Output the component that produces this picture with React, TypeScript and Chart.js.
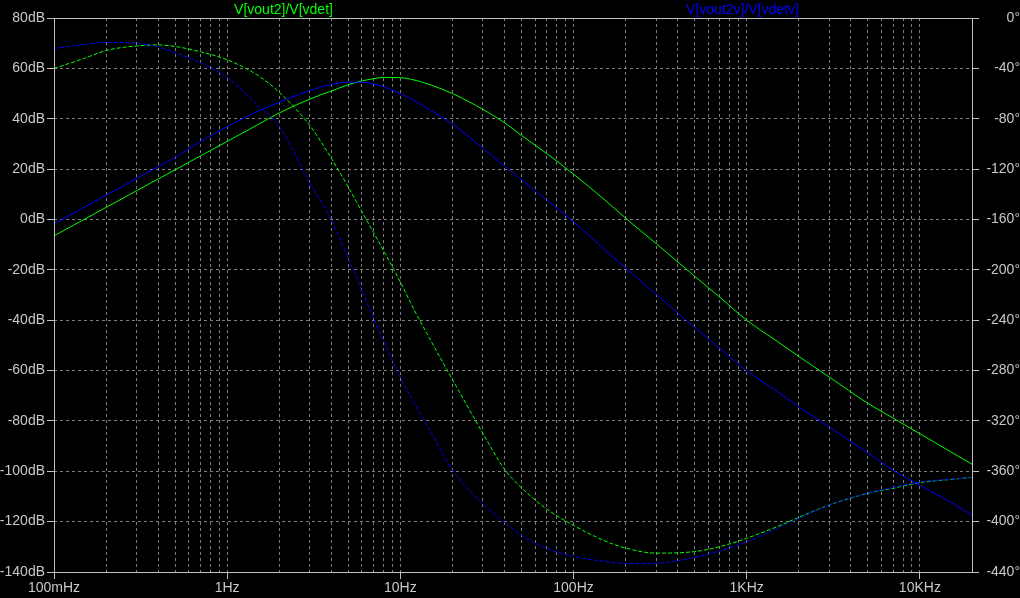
import React, { useEffect, useRef } from "react";
import { Chart, registerables } from "chart.js";

Chart.register(...registerables);

// ---------- data ----------
const freqHz = [
  0.1, 0.15, 0.2, 0.3, 0.4, 0.5, 0.7, 1, 1.5, 2, 3, 4, 5, 6, 7, 8, 10, 12, 15, 20,
  30, 40, 50, 70, 100, 150, 200, 300, 500, 700, 1000, 1500, 2000, 3000, 5000, 7000,
  10000, 15000, 20000,
];

// V[vout2]/V[vdet] magnitude (dB)
const gainVout2Db = [
  -6.5, 0.1, 4.8, 11.4, 16.1, 19.7, 25.2, 31.0, 37.6, 42.3, 47.8, 51.0, 53.5, 55.0, 55.9, 56.4,
  56.3, 55.4, 53.4, 50.0, 43.7, 38.4, 33.4, 26.2, 18.0, 8.0, 0.5, -9.6, -22.5, -30.9, -40.0,
  -48.4, -54.4, -62.6, -73.0, -78.9, -85.1, -92.2, -97.2,
];

// V[vout2]/V[vdet] phase (degrees)
const phaseVout2Deg = [
  -40, -32, -25.8, -22.2, -21.4, -22.6, -26.8, -33.2, -45.5, -59, -85.4, -111.6, -134.2, -153.8,
  -170.4, -184.7, -209.7, -231.6, -256.3, -287.2, -330, -358.5, -373, -390, -403, -415, -421,
  -425, -423.8, -419.9, -413.2, -404, -396.6, -386.8, -377.5, -373.5, -369, -366.5, -364.8,
];

// V[vout2v]/V[vdetv] magnitude (dB)
const gainVout2vDb = [
  -1.7, 4.9, 9.6, 16.3, 21.0, 24.6, 31.0, 36.8, 43.0, 46.5, 51.2, 53.6, 54.5, 54.5, 53.8, 52.7,
  50.0, 47.2, 43.3, 37.8, 28.3, 21.2, 15.8, 7.7, -0.9, -11.8, -19.3, -29.8, -42.8, -51.2, -60.1,
  -68.3, -74.4, -82.4, -92.7, -99.6, -105.5, -112.3, -117.4,
];

// V[vout2v]/V[vdetv] phase (degrees)
const phaseVout2vDeg = [
  -24.2, -21.0, -19.4, -20.1, -23.0, -27.5, -35.5, -47.3, -69, -86, -131, -160.5, -191, -216.4,
  -238.7, -256.5, -285.2, -305.3, -329, -359, -386, -400.6, -411, -421.2, -427.6, -431.5, -433.2,
  -433, -428.5, -423.3, -416, -405.3, -397.4, -386.8, -377.3, -373, -368.5, -366.3, -364.8,
];

const decadeValues = [0.1, 1, 10, 100, 1000, 10000];
const decadeLabels = ["100mHz", "1Hz", "10Hz", "100Hz", "1KHz", "10KHz"];
const traceNames = ["V[vout2]/V[vdet]", "V[vout2v]/V[vdetv]"];

const X_MIN = 0.1;
const X_MAX = 20000;
const DB_MIN = -140;
const DB_MAX = 80;
const DB_STEP = 20;
const DEG_MIN = -440;
const DEG_MAX = 0;
const DEG_STEP = 40;

// ---------- styles ----------
const GREEN = "#00ff00";
const BLUE = "#0000ff";
const GRID = "#7f7f7f";
const FRAME = "#c0c0c0";
const TEXT = "#c8c8c8";
const FONT_FAMILY = '"Liberation Sans", Arial, sans-serif';

function gridValues(): number[] {
  const out: number[] = [];
  for (let e = -1; e <= 4; e++) {
    for (let m = 1; m <= 9; m++) {
      const v = +(m * Math.pow(10, e)).toPrecision(6);
      if (v >= X_MIN * 0.999 && v <= X_MAX * 1.001) out.push(v);
    }
  }
  return out;
}

function decadeIndex(v: number): number {
  return decadeValues.findIndex((d) => Math.abs(d - v) / d < 1e-6);
}

function toXY(values: number[]) {
  return freqHz.map((f, i) => ({ x: f, y: values[i] }));
}

const framePlugin = {
  id: "ltspiceFrame",
  beforeDraw(chart: any) {
    const { ctx, width, height } = chart;
    ctx.save();
    ctx.fillStyle = "#000";
    ctx.fillRect(0, 0, width, height);
    ctx.restore();
  },
  afterDraw(chart: any) {
    const { ctx, chartArea } = chart;
    const { left, right, top, bottom } = chartArea;
    ctx.save();
    ctx.strokeStyle = FRAME;
    ctx.lineWidth = 1;
    ctx.setLineDash([]);
    ctx.strokeRect(left + 0.5, top + 0.5, right - left, bottom - top);
    ctx.font = `14px ${FONT_FAMILY}`;
    ctx.textAlign = "center";
    ctx.textBaseline = "alphabetic";
    const w = right - left;
    ctx.fillStyle = GREEN;
    ctx.fillText(traceNames[0], left + w * 0.25, 14);
    ctx.fillStyle = BLUE;
    ctx.fillText(traceNames[1], left + w * 0.75, 14);
    ctx.restore();
  },
};

export default function App() {
  const ref = useRef<HTMLCanvasElement>(null);

  useEffect(() => {
    document.body.style.margin = "0";
    document.body.style.background = "#000";
    const tickFont = { family: FONT_FAMILY, size: 14 };
    const common = {
      borderWidth: 1,
      pointRadius: 0,
      pointHoverRadius: 0,
      fill: false,
      cubicInterpolationMode: "monotone" as const,
    };
    const chart = new Chart(ref.current as HTMLCanvasElement, {
      type: "line",
      data: {
        datasets: [
          { ...common, label: traceNames[1] + " gain", data: toXY(gainVout2vDb), yAxisID: "yDb", borderColor: BLUE },
          { ...common, label: traceNames[1] + " phase", data: toXY(phaseVout2vDeg), yAxisID: "yDeg", borderColor: BLUE, borderDash: [4, 2] },
          { ...common, label: traceNames[0] + " gain", data: toXY(gainVout2Db), yAxisID: "yDb", borderColor: GREEN },
          { ...common, label: traceNames[0] + " phase", data: toXY(phaseVout2Deg), yAxisID: "yDeg", borderColor: GREEN, borderDash: [4, 2] },
        ],
      },
      options: {
        animation: false,
        responsive: false,
        events: [],
        layout: { padding: { top: 18, left: 0, right: 0, bottom: 0 } },
        plugins: {
          legend: { display: false },
          tooltip: { enabled: false },
          title: { display: false },
        },
        scales: {
          x: {
            type: "logarithmic",
            position: "bottom",
            min: X_MIN,
            max: X_MAX,
            afterBuildTicks: (s: any) => {
              s.ticks = gridValues().map((v) => ({ value: v }));
            },
            afterFit: (s: any) => {
              s.height = 26;
            },
            grid: {
              color: GRID,
              lineWidth: 1,
              tickLength: 7,
              tickColor: (c: any) =>
                c.tick && decadeIndex(c.tick.value) >= 0 ? FRAME : "rgba(0,0,0,0)",
              tickBorderDash: [],
            },
            border: { display: false, dash: [3, 3] },
            ticks: {
              autoSkip: false,
              maxRotation: 0,
              minRotation: 0,
              padding: 1,
              color: TEXT,
              font: tickFont,
              callback: (v: any) => {
                const i = decadeIndex(Number(v));
                return i >= 0 ? decadeLabels[i] : "";
              },
            },
          },
          yDb: {
            type: "linear",
            position: "left",
            min: DB_MIN,
            max: DB_MAX,
            afterFit: (s: any) => {
              s.width = 54;
            },
            grid: { color: GRID, lineWidth: 1, tickLength: 7, tickColor: FRAME, tickBorderDash: [] },
            border: { display: false, dash: [3, 3] },
            ticks: {
              stepSize: DB_STEP,
              padding: 2,
              color: TEXT,
              font: tickFont,
              callback: (v: any) => `${v}dB`,
            },
          },
          yDeg: {
            type: "linear",
            position: "right",
            min: DEG_MIN,
            max: DEG_MAX,
            afterFit: (s: any) => {
              s.width = 48;
            },
            grid: { drawOnChartArea: false, lineWidth: 1, tickLength: 7, tickColor: FRAME, tickBorderDash: [] },
            border: { display: false },
            ticks: {
              stepSize: DEG_STEP,
              padding: 0,
              crossAlign: "far",
              color: TEXT,
              font: tickFont,
              callback: (v: any) => `${v}°`,
            },
          },
        },
      } as any,
      plugins: [framePlugin],
    });
    return () => chart.destroy();
  }, []);

  return (
    <div style={{ position: "fixed", left: 0, top: 0, width: 1020, height: 598, background: "#000" }}>
      <canvas ref={ref} width={1020} height={598} style={{ display: "block" }} />
    </div>
  );
}
